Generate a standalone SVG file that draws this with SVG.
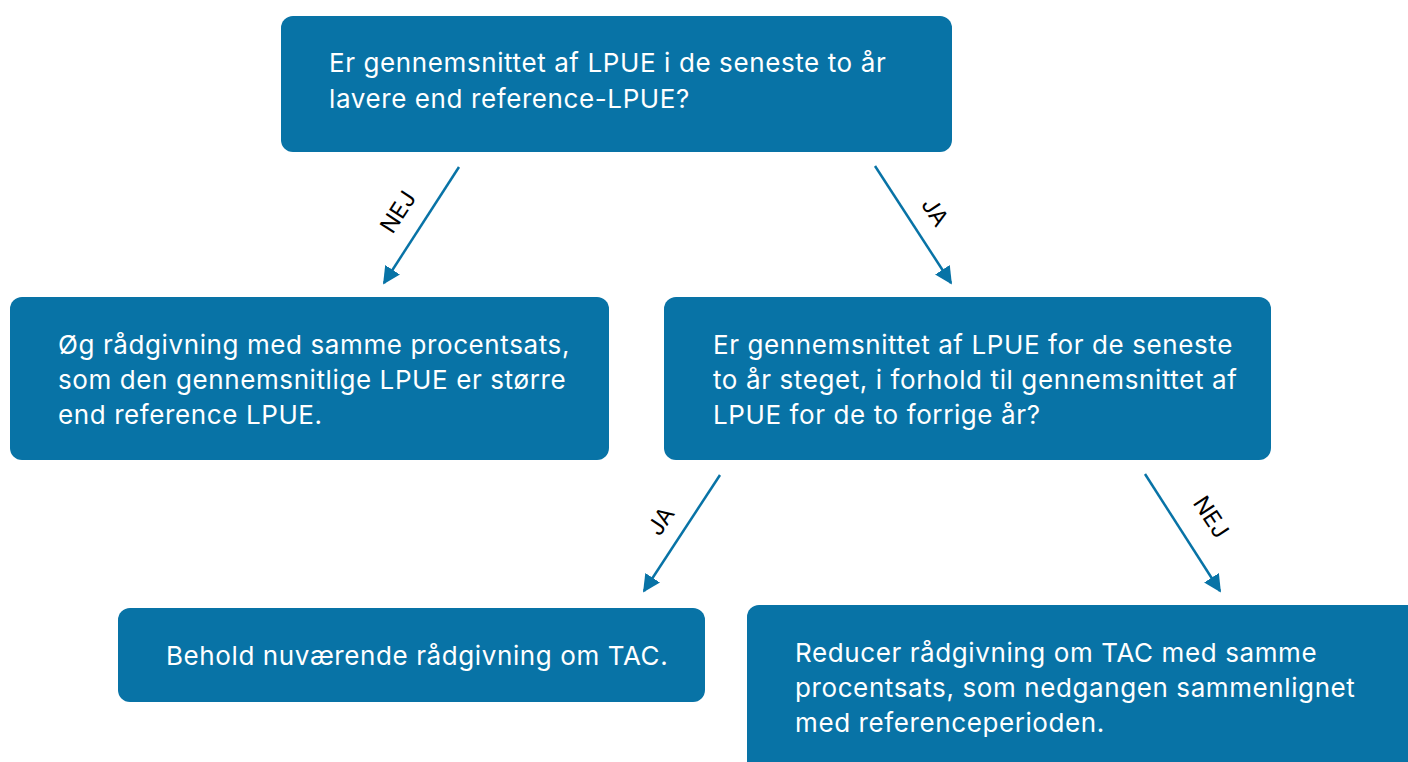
<svg xmlns="http://www.w3.org/2000/svg" width="1408" height="762" viewBox="0 0 1408 762">
<defs>
<style>
.box{fill:#0873a6;}
.t{font-family:Inter,"Liberation Sans",sans-serif;font-size:26px;letter-spacing:0.6px;fill:#ffffff;}
.lbl{font-family:Inter,"Liberation Sans",sans-serif;font-size:23px;fill:#000000;text-anchor:middle;}
.c{stroke:#0873a6;stroke-width:2.5;fill:none;marker-end:url(#ah);}
</style>
<marker id="ah" viewBox="0 0 10 10" refX="9" refY="5" markerWidth="7" markerHeight="7" markerUnits="strokeWidth" orient="auto">
<path d="M0,0 L10,5 L0,10 z" fill="#0873a6"/>
</marker>
</defs>
<rect width="1408" height="762" fill="#ffffff"/>
<g id="connectors">
<line class="c" x1="459" y1="167" x2="384" y2="283"/>
<line class="c" x1="875" y1="166" x2="951" y2="283"/>
<line class="c" x1="720" y1="475" x2="644" y2="591"/>
<line class="c" x1="1145" y1="474" x2="1220" y2="591"/>
<text class="lbl" transform="translate(398,212) rotate(-56.8)" dy="8">NEJ</text>
<text class="lbl" transform="translate(935,212) rotate(56.8)" dy="8">JA</text>
<text class="lbl" transform="translate(661,521) rotate(-56.8)" dy="8">JA</text>
<text class="lbl" transform="translate(1211,517) rotate(56.8)" dy="8">NEJ</text>
</g>
<g id="n1">
<rect class="box" x="281" y="16" width="671" height="136" rx="12"/>
<text class="t" x="329" y="72">Er gennemsnittet af LPUE i de seneste to år</text>
<text class="t" x="329" y="108">lavere end reference-LPUE?</text>
</g>
<g id="n2">
<rect class="box" x="10" y="297" width="599" height="163" rx="12"/>
<text class="t" x="58" y="354">Øg rådgivning med samme procentsats,</text>
<text class="t" x="58" y="389">som den gennemsnitlige LPUE er større</text>
<text class="t" x="58" y="424">end reference LPUE.</text>
</g>
<g id="n3">
<rect class="box" x="664" y="297" width="607" height="163" rx="12"/>
<text class="t" x="713" y="354">Er gennemsnittet af LPUE for de seneste</text>
<text class="t" x="713" y="389">to år steget, i forhold til gennemsnittet af</text>
<text class="t" x="713" y="424">LPUE for de to forrige år?</text>
</g>
<g id="n4">
<rect class="box" x="118" y="608" width="587" height="94" rx="12"/>
<text class="t" x="166" y="665">Behold nuværende rådgivning om TAC.</text>
</g>
<g id="n5">
<rect class="box" x="747" y="605" width="673" height="170" rx="12"/>
<text class="t" x="795" y="662">Reducer rådgivning om TAC med samme</text>
<text class="t" x="795" y="697">procentsats, som nedgangen sammenlignet</text>
<text class="t" x="795" y="732">med referenceperioden.</text>
</g>
</svg>
